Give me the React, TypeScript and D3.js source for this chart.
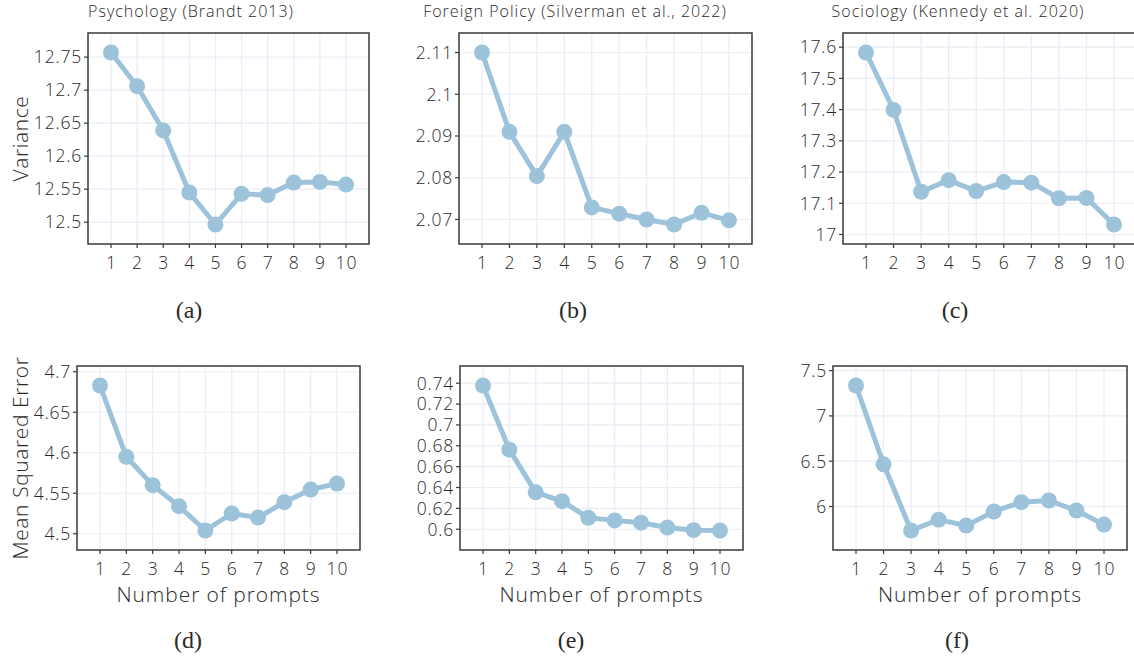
import React from "react";
import * as d3 from "d3";

const prompts = [1, 2, 3, 4, 5, 6, 7, 8, 9, 10];

const psychVariance = [12.757, 12.706, 12.639, 12.545, 12.4965, 12.543, 12.541, 12.56, 12.561, 12.557];
const foreignVariance = [2.11, 2.091, 2.0804, 2.091, 2.0729, 2.0714, 2.07, 2.0688, 2.0716, 2.0698];
const socioVariance = [17.583, 17.399, 17.137, 17.174, 17.139, 17.168, 17.166, 17.116, 17.117, 17.032];
const psychMSE = [4.683, 4.595, 4.56, 4.534, 4.504, 4.525, 4.52, 4.539, 4.5545, 4.562];
const foreignMSE = [0.7378, 0.6763, 0.6354, 0.6269, 0.611, 0.6085, 0.6063, 0.6016, 0.5991, 0.5988];
const socioMSE = [7.336, 6.466, 5.735, 5.855, 5.789, 5.945, 6.048, 6.066, 5.956, 5.8];

const psychVarTicks = [12.5, 12.55, 12.6, 12.65, 12.7, 12.75];
const foreignVarTicks = [2.07, 2.08, 2.09, 2.1, 2.11];
const socioVarTicks = [17, 17.1, 17.2, 17.3, 17.4, 17.5, 17.6];
const psychMseTicks = [4.5, 4.55, 4.6, 4.65, 4.7];
const foreignMseTicks = [0.6, 0.62, 0.64, 0.66, 0.68, 0.7, 0.72, 0.74];
const socioMseTicks = [6, 6.5, 7, 7.5];

const titles = ["Psychology (Brandt 2013)", "Foreign Policy (Silverman et al., 2022)", "Sociology (Kennedy et al. 2020)"];
const captions = ["(a)", "(b)", "(c)", "(d)", "(e)", "(f)"];
const yTitles = ["Variance", "Mean Squared Error"];
const xTitle = "Number of prompts";

const SANS = "'Open Sans', 'Noto Sans', sans-serif";
const SERIF = "'Liberation Serif', 'DejaVu Serif', serif";
const LINE = "#9dc3db";
const GRID = "#e8edf6";
const FRAME = "#3a3a3a";
const INK = "#2a2a2a";
const W = 350;

type PanelDef = {
  values: number[];
  ticks: number[];
  box: [number, number, number, number]; // left, top, right, bottom
  caption: string;
  capX: number;
  capY: number;
  title?: string;
  titleX?: number;
  yTitle?: string;
  xTitle?: boolean;
};

const panels: PanelDef[] = [
  { values: psychVariance, ticks: psychVarTicks, box: [88, 33, 369, 244], caption: captions[0], capX: 189, capY: 318, title: titles[0], titleX: 191, yTitle: yTitles[0] },
  { values: foreignVariance, ticks: foreignVarTicks, box: [459, 33, 752, 244], caption: captions[1], capX: 573, capY: 318, title: titles[1], titleX: 575 },
  { values: socioVariance, ticks: socioVarTicks, box: [843, 33, 1137, 244], caption: captions[2], capX: 955, capY: 318, title: titles[2], titleX: 958 },
  { values: psychMSE, ticks: psychMseTicks, box: [77, 366, 360, 550], caption: captions[3], capX: 188, capY: 648, yTitle: yTitles[1], xTitle: true },
  { values: foreignMSE, ticks: foreignMseTicks, box: [460, 366, 743, 550], caption: captions[4], capX: 571, capY: 648, xTitle: true },
  { values: socioMSE, ticks: socioMseTicks, box: [833, 366, 1127, 550], caption: captions[5], capX: 957, capY: 648, xTitle: true },
];

const fmt = (v: number) => String(+v.toFixed(4));

function Panel({ p }: { p: PanelDef }) {
  const [l, t, r, b] = p.box;
  const xPad = 23;
  const yPad = 19.5;
  const x = d3.scaleLinear().domain([1, 10]).range([l + xPad, r - xPad]);
  const [mn, mx] = d3.extent(p.values) as [number, number];
  const y = d3.scaleLinear().domain([mn, mx]).range([b - yPad, t + yPad]);
  const line = d3
    .line<number>()
    .x((_, i) => x(prompts[i]))
    .y((d) => y(d));
  return (
    <g>
      {p.title && (
        <text x={p.titleX} y={17} textAnchor="middle" fontFamily={SANS} fontWeight={W} fontSize={16} letterSpacing={1} fill={INK}>
          {p.title}
        </text>
      )}
      {prompts.map((k) => (
        <line key={"gx" + k} x1={x(k)} x2={x(k)} y1={t} y2={b} stroke={GRID} strokeWidth={1.2} />
      ))}
      {p.ticks.map((v) => (
        <line key={"gy" + v} x1={l} x2={r} y1={y(v)} y2={y(v)} stroke={GRID} strokeWidth={1.2} />
      ))}
      <path d={line(p.values) || ""} fill="none" stroke={LINE} strokeWidth={5} strokeLinejoin="round" />
      {p.values.map((v, i) => (
        <circle key={"m" + i} cx={x(prompts[i])} cy={y(v)} r={8} fill={LINE} />
      ))}
      <rect x={l} y={t} width={r - l} height={b - t} fill="none" stroke={FRAME} strokeWidth={1.5} />
      {p.ticks.map((v) => (
        <g key={"ty" + v}>
          <line x1={l - 4} x2={l} y1={y(v)} y2={y(v)} stroke={FRAME} strokeWidth={1.2} />
          <text x={l - 6} y={y(v)} dy="0.36em" textAnchor="end" fontFamily={SANS} fontWeight={W} fontSize={17.5} letterSpacing={0.8} fill={INK}>
            {fmt(v)}
          </text>
        </g>
      ))}
      {prompts.map((k) => (
        <g key={"tx" + k}>
          <line x1={x(k)} x2={x(k)} y1={b} y2={b + 4} stroke={FRAME} strokeWidth={1.2} />
          <text x={x(k) + 0.4} y={b + 25} textAnchor="middle" fontFamily={SANS} fontWeight={W} fontSize={17.5} letterSpacing={0.8} fill={INK}>
            {k}
          </text>
        </g>
      ))}
      {p.yTitle && (
        <text
          transform={`translate(${20},${(t + b) / 2}) rotate(-90)`}
          dy="0.36em"
          textAnchor="middle"
          fontFamily={SANS}
          fontWeight={W}
          fontSize={21}
          letterSpacing={0.6}
          fill={INK}
        >
          {p.yTitle}
        </text>
      )}
      {p.xTitle && (
        <text x={(l + r) / 2} y={602} textAnchor="middle" fontFamily={SANS} fontWeight={W} fontSize={21} letterSpacing={0.9} fill={INK}>
          {xTitle}
        </text>
      )}
      <text x={p.capX} y={p.capY} textAnchor="middle" fontFamily={SERIF} fontSize={24} fill={INK}>
        {p.caption}
      </text>
    </g>
  );
}

export default function App() {
  return (
    <svg
      width={1134}
      height={657}
      style={{ position: "fixed", left: 0, top: 0, background: "#fff" }}
    >
      <rect width={1134} height={657} fill="#fff" />
      {panels.map((p, i) => (
        <Panel key={i} p={p} />
      ))}
    </svg>
  );
}
